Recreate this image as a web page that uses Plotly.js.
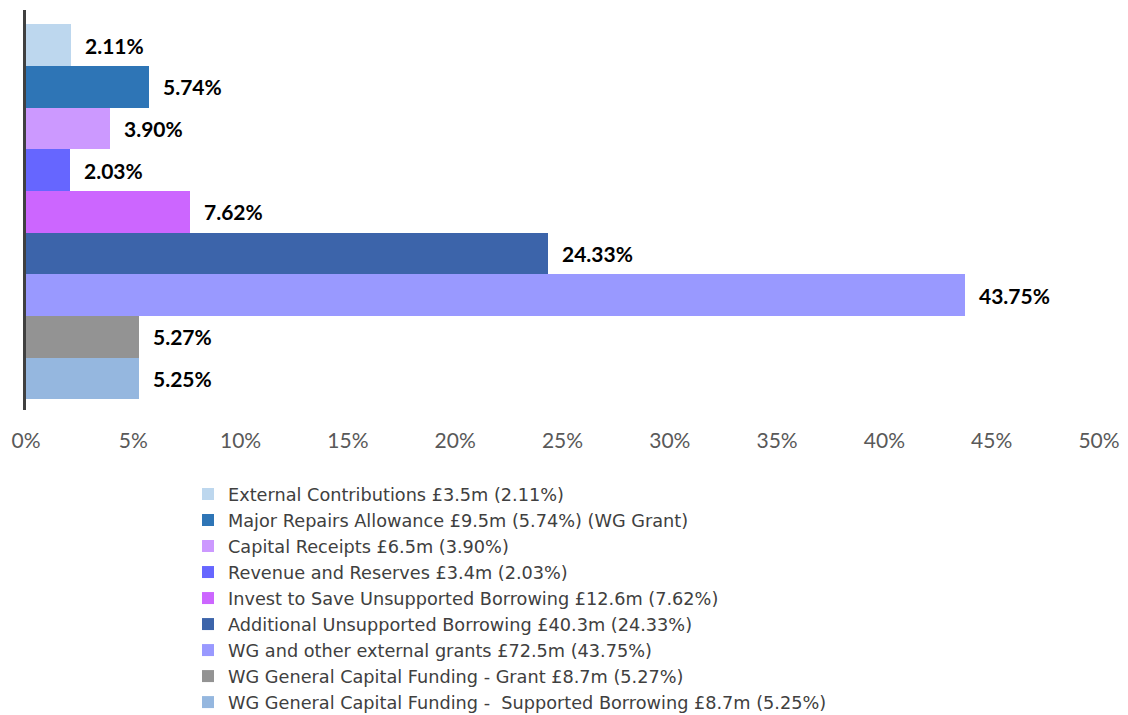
<!DOCTYPE html>
<html>
<head>
<meta charset="utf-8">
<script src="https://cdn.plot.ly/plotly-3.0.1.min.js"></script>
<style>html,body{margin:0;padding:0;background:#fff;}#chart{width:1128px;height:715px;}</style>
</head>
<body>
<div id="chart"></div>
<script>
const names = [
  "External Contributions £3.5m (2.11%)",
  "Major Repairs Allowance £9.5m (5.74%) (WG Grant)",
  "Capital Receipts £6.5m (3.90%)",
  "Revenue and Reserves £3.4m (2.03%)",
  "Invest to Save Unsupported Borrowing £12.6m (7.62%)",
  "Additional Unsupported Borrowing £40.3m (24.33%)",
  "WG and other external grants £72.5m (43.75%)",
  "WG General Capital Funding - Grant £8.7m (5.27%)",
  "WG General Capital Funding -  Supported Borrowing £8.7m (5.25%)"
];
const values = [2.11, 5.74, 3.90, 2.03, 7.62, 24.33, 43.75, 5.27, 5.25];
const labels = ["2.11%", "5.74%", "3.90%", "2.03%", "7.62%", "24.33%", "43.75%", "5.27%", "5.25%"];
const colors = ["#BDD7EE", "#2E75B6", "#CC99FF", "#6666FF", "#CC66FF", "#3C64AA", "#9999FF", "#939393", "#95B7DF"];
const xTicks = [0, 5, 10, 15, 20, 25, 30, 35, 40, 45, 50];

const traces = names.map((n, i) => ({
  type: "bar",
  orientation: "h",
  name: n,
  x: [values[i]],
  y: [n],
  marker: {color: colors[i], line: {width: 0}},
  width: 1,
  hoverinfo: "skip"
}));

const annotations = names.map((n, i) => ({
  x: values[i], y: n, xref: "x", yref: "y",
  text: "<b>" + labels[i] + "</b>",
  showarrow: false, xanchor: "left", yanchor: "middle",
  xshift: 12, yshift: 0,
  font: {family: "Lato, 'Open Sans', sans-serif", size: 21, color: "#000000"}
}));

const layout = {
  width: 1128, height: 715,
  paper_bgcolor: "#ffffff", plot_bgcolor: "#ffffff",
  margin: {l: 26, r: 29, t: 10, b: 305, autoexpand: false},
  barmode: "overlay",
  bargap: 0,
  showlegend: true,
  xaxis: {
    range: [0, 50],
    tickvals: xTicks,
    ticktext: xTicks.map(v => v + "%"),
    showgrid: false, zeroline: false, showline: false,
    ticks: "outside", ticklen: 12, tickcolor: "rgba(0,0,0,0)",
    tickfont: {family: "Lato, 'Open Sans', sans-serif", size: 21, color: "#595959"}
  },
  yaxis: {
    type: "category",
    categoryorder: "array", categoryarray: names,
    range: [8.76, -0.84],
    showticklabels: false, showgrid: false, zeroline: false,
    showline: true, linewidth: 3, linecolor: "#404040", ticks: ""
  },
  legend: {
    orientation: "v",
    x: 0.151, xanchor: "left",
    y: -0.165, yanchor: "top",
    bgcolor: "rgba(0,0,0,0)",
    font: {family: "'DejaVu Sans', 'Open Sans', sans-serif", size: 17.7, color: "#404040"},
    traceorder: "normal",
    itemclick: false
  },
  annotations: annotations
};

Plotly.newPlot("chart", traces, layout, {displayModeBar: false, staticPlot: true});
</script>
</body>
</html>
